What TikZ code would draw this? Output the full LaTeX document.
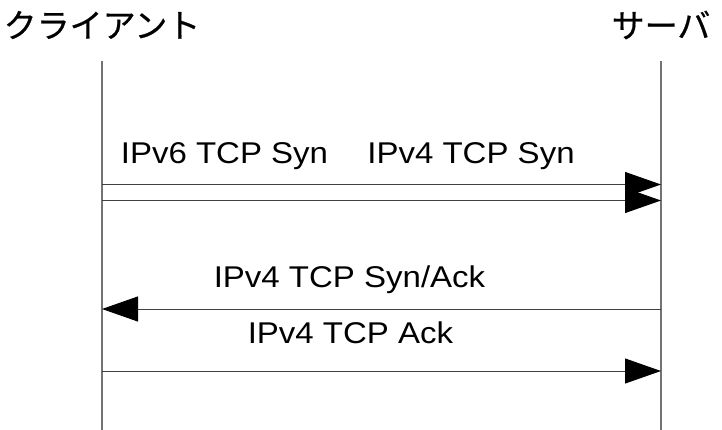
\documentclass[tikz,border=0pt]{standalone}
\usepackage{fontspec}
\setmainfont[FakeStretch=1.1]{Liberation Sans}
\newfontfamily\jp[FakeBold=0.6]{Noto Sans CJK JP}
\usetikzlibrary{arrows.meta}
\tikzset{
  lifeline/.style={draw=black!55, line width=1.4pt},
  msg/.style={draw=black!75, line width=1pt, -{Triangle[length=36pt,width=25pt,fill=black,color=black]}},
  hdr/.style={font=\jp\fontsize{33}{38}\selectfont, inner sep=0pt},
  lbl/.style={font=\fontsize{30}{34}\selectfont, inner sep=0pt, anchor=base},
}
\begin{document}
\begin{tikzpicture}[x=1pt,y=-1pt]
\useasboundingbox (0,0) rectangle (722,430);
% headers
\node[hdr] (client) at (102,25) {クライアント};
\node[hdr] (server) at (661,25) {サーバ};
% lifelines
\coordinate (ctop) at (102,61);
\coordinate (cbot) at (102,430);
\coordinate (stop) at (661,61);
\coordinate (sbot) at (661,430);
\draw[lifeline] (ctop) -- (cbot);
\draw[lifeline] (stop) -- (sbot);
% message end points
\coordinate (c1) at (102,184.5);
\coordinate (s1) at (661,184.5);
\coordinate (c2) at (102,200.5);
\coordinate (s2) at (661,200.5);
\coordinate (c3) at (102,309);
\coordinate (s3) at (661,309);
\coordinate (c4) at (102,371);
\coordinate (s4) at (661,371);
\draw[msg] (c1) -- (s1);
\draw[msg] (c2) -- (s2);
\draw[msg] (s3) -- (c3);
\draw[msg] (c4) -- (s4);
% labels
\node[lbl] (l1) at (224.5,164) {IPv6 TCP Syn};
\node[lbl] (l2) at (471,164) {IPv4 TCP Syn};
\node[lbl] (l3) at (349.5,287) {IPv4 TCP Syn/Ack};
\node[lbl] (l4) at (350.5,343) {IPv4 TCP Ack};
\end{tikzpicture}
\end{document}
